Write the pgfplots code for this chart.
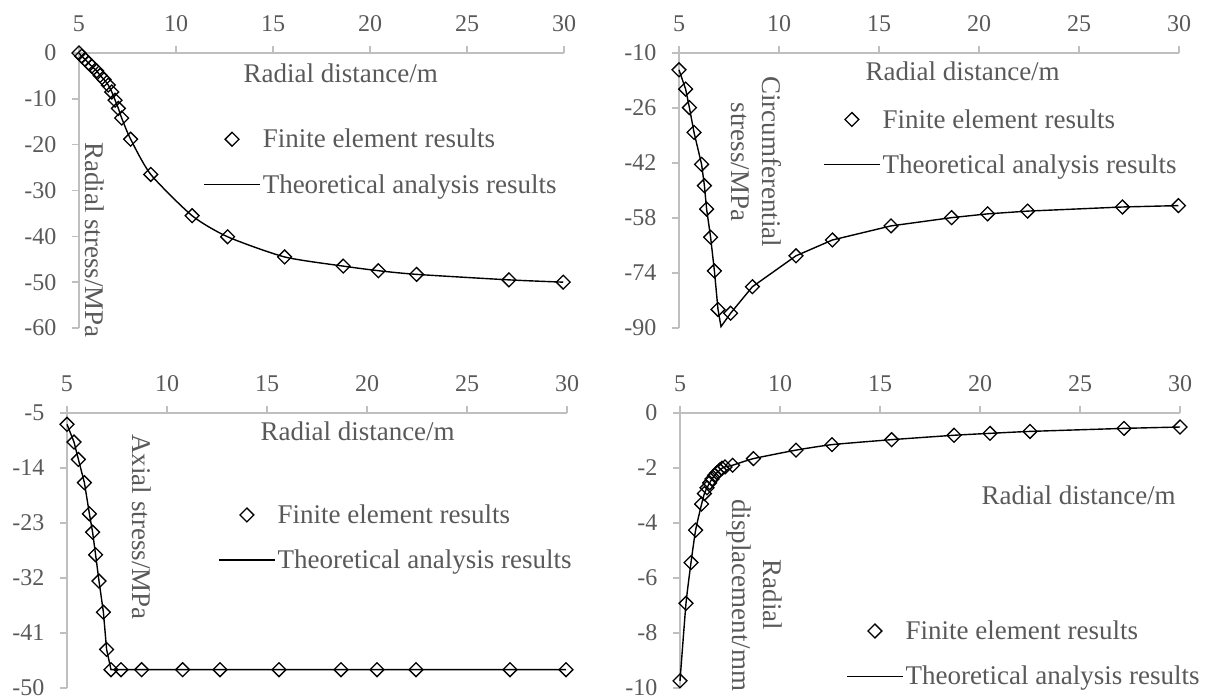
\documentclass[border=0pt]{standalone}
\usepackage{fontspec}
\setmainfont{Liberation Serif}
\usepackage{pgfplots}
\pgfplotsset{compat=1.18}
\definecolor{textgray}{RGB}{89,89,89}
\definecolor{axisgray}{RGB}{191,191,191}
\pgfplotsset{
 panel/.style={
  scale only axis, width=500pt, height=275pt, xmin=5, xmax=30, xtick={5,10,...,30},
  axis x line=top, axis y line=left,
  axis line style={-, draw=axisgray, line width=1.5pt},
  every tick/.style={draw=axisgray, line width=1.5pt},
  tick align=outside, major tick length=7pt,
  tick label style={font=\fontsize{24}{28}\selectfont, text=textgray},
  xticklabel style={yshift=11pt},
  yticklabel style={xshift=-12pt},
  /pgf/number format/assume math mode=true,
  scaled y ticks=false,
  label style={font=\fontsize{27}{31}\selectfont, text=textgray},
  clip=false,
  legend cell align=left,
  legend style={draw=none, fill=none, font=\fontsize{27}{31}\selectfont, text=textgray,
    anchor=west, inner sep=0pt, row sep=21pt},
 },
 fe/.style={only marks, mark=square, mark size=4.9pt,
   mark options={rotate=45, line width=1.3pt, draw=black, fill=none},
   legend image code/.code={\path (0pt,0pt) (56pt,0pt);
     \draw[black, line width=1.3pt] plot[mark=square, mark size=4.9pt, mark options={rotate=45}, only marks] coordinates {(28pt,0pt)};}},
 th/.style={black, line width=1.4pt, no markers,
   legend image code/.code={\draw[black, line width=1.4pt] (0pt,0pt) -- (56pt,0pt);}},
}
\pgfplotstableread{
x y
5.0 0
5.14 -0.7
5.31 -1.4
5.49 -2.2
5.66 -2.9
5.91 -3.9
6.09 -4.9
6.29 -5.8
6.51 -7.0
6.69 -8.5
6.86 -10.3
7.03 -12.1
7.2 -14.2
7.66 -18.8
8.7 -26.5
10.83 -35.5
12.66 -40.1
15.6 -44.5
18.62 -46.5
20.43 -47.5
22.4 -48.3
27.16 -49.5
29.96 -50.0
}\radial
\pgfplotstableread{
x y
5.0 -14.9
5.33 -20.5
5.52 -25.9
5.75 -33.1
6.13 -42.4
6.27 -48.6
6.38 -55.4
6.58 -63.6
6.77 -73.4
6.95 -84.6
7.58 -85.7
8.67 -78.0
10.85 -69.0
12.67 -64.4
15.6 -60.3
18.63 -57.9
20.43 -56.8
22.43 -56.0
27.17 -54.8
29.97 -54.4
}\circfe
\pgfplotstableread{
x y
5.0 -14.9
5.33 -20.5
5.52 -25.9
5.75 -33.1
6.13 -42.4
6.27 -48.6
6.38 -55.4
6.58 -63.6
6.77 -73.4
6.95 -84.6
7.1 -89.6
7.58 -85.7
8.67 -78.0
10.85 -69.0
12.67 -64.4
15.6 -60.3
18.63 -57.9
20.43 -56.8
22.43 -56.0
27.17 -54.8
29.97 -54.4
}\circth
\pgfplotstableread{
x y
5.0 -6.85
5.35 -9.75
5.57 -12.6
5.87 -16.4
6.12 -21.5
6.28 -24.5
6.43 -28.2
6.6 -32.5
6.82 -37.6
6.98 -43.7
7.2 -47.0
7.7 -47.0
8.73 -47.0
10.78 -47.0
12.65 -47.0
15.6 -47.0
18.7 -47.0
20.5 -47.0
22.45 -47.0
27.15 -47.0
29.95 -47.0
}\axial
\pgfplotstableread{
x y
5.0 -9.74
5.3 -6.92
5.55 -5.44
5.78 -4.26
6.08 -3.31
6.22 -2.93
6.35 -2.72
6.48 -2.54
6.6 -2.40
6.73 -2.27
6.85 -2.17
6.98 -2.08
7.1 -2.01
7.25 -1.96
7.63 -1.90
8.67 -1.66
10.8 -1.35
12.6 -1.15
15.58 -0.97
18.7 -0.81
20.5 -0.74
22.5 -0.67
27.2 -0.56
30.0 -0.51
}\disp
\begin{document}
\begin{tikzpicture}
\useasboundingbox (0pt,0pt) rectangle (1215pt,700pt);
% Panel 1
\begin{axis}[panel, at={(79pt,372pt)}, anchor=south west, width=485pt,
  ymin=-60, ymax=0, ytick={-60,-50,...,0},
  xlabel={Radial distance/m}, xlabel style={at={(rel axis cs:0.332,0.925)}, anchor=west},
  ylabel={Radial stress/MPa}, ylabel style={at={(rel axis cs:0.033,0.32)}, anchor=center, rotate=180},
  legend style={at={(rel axis cs:0.256,0.604)}}]
\addplot[fe] table {\radial};
\addlegendentry{Finite element results}
\addplot[th, smooth, tension=0.4] table {\radial};
\addlegendentry{Theoretical analysis results}
\end{axis}
% Panel 2
\begin{axis}[panel, at={(679pt,372pt)}, anchor=south west,
  ymin=-90, ymax=-10, ytick={-90,-74,-58,-42,-26,-10},
  xlabel={Radial distance/m}, xlabel style={at={(rel axis cs:0.366,0.932)}, anchor=west},
  ylabel={Circumferential\\stress/MPa}, ylabel style={at={(rel axis cs:0.154,0.604)}, anchor=center, rotate=180, align=center},
  legend style={at={(rel axis cs:0.288,0.676)}}]
\addplot[fe] table {\circfe};
\addlegendentry{Finite element results}
\addplot[th] table {\circth};
\addlegendentry{Theoretical analysis results}
\end{axis}
% Panel 3
\begin{axis}[panel, at={(67pt,12pt)}, anchor=south west,
  ymin=-50, ymax=-5, ytick={-50,-41,-32,-23,-14,-5},
  xlabel={Radial distance/m}, xlabel style={at={(rel axis cs:0.38,0.932)}, anchor=west},
  ylabel={Axial stress/MPa}, ylabel style={at={(rel axis cs:0.15,0.585)}, anchor=center, rotate=180},
  legend style={at={(rel axis cs:0.302,0.547)}}]
\addplot[fe] table {\axial};
\addlegendentry{Finite element results}
\addplot[th] table {\axial};
\addlegendentry{Theoretical analysis results}
\end{axis}
% Panel 4
\begin{axis}[panel, at={(680pt,12pt)}, anchor=south west,
  ymin=-10, ymax=0, ytick={-10,-8,...,0},
  xlabel={Radial distance/m}, xlabel style={at={(rel axis cs:0.596,0.70)}, anchor=west},
  ylabel={Radial\\displacement/mm}, ylabel style={at={(rel axis cs:0.148,0.338)}, anchor=center, rotate=180, align=center},
  legend style={at={(rel axis cs:0.332,0.125)}}]
\addplot[fe] table {\disp};
\addlegendentry{Finite element results}
\addplot[th, smooth, tension=0.3] table {\disp};
\addlegendentry{Theoretical analysis results}
\end{axis}
\end{tikzpicture}
\end{document}
